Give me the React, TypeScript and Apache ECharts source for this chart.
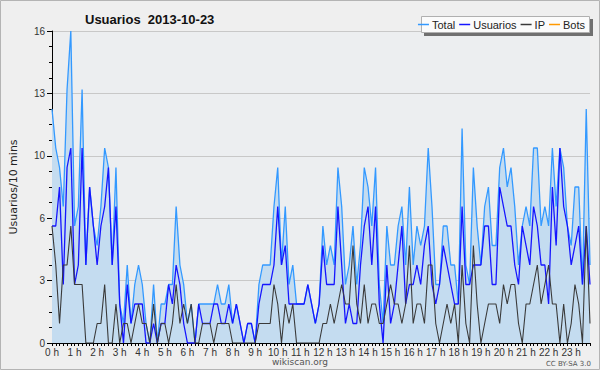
import React, { useEffect, useRef } from 'react';
import * as echarts from 'echarts';

// Hour tick labels (one every 6 ten-minute slots)
const hourLabels = [
  '0 h', '1 h', '2 h', '3 h', '4 h', '5 h', '6 h', '7 h', '8 h', '9 h', '10 h', '11 h',
  '12 h', '13 h', '14 h', '15 h', '16 h', '17 h', '18 h', '19 h', '20 h', '21 h', '22 h', '23 h',
];

const yTickLabels = ['0', '3', '6', '10', '13', '16'];

// 10-minute values, one row per hour
const total = [
  12, 10, 9, 7, 13, 16,
  6, 7, 13, 4, 8, 6,
  5, 7, 10, 9, 4, 9,
  2, 1, 4, 1, 3, 4,
  3, 1, 0, 3, 0, 2,
  2, 3, 3, 7, 4, 3,
  1, 2, 0, 2, 2, 2,
  2, 2, 3, 2, 2, 3,
  1, 2, 1, 0, 1, 1,
  0, 3, 4, 4, 4, 7,
  9, 4, 7, 3, 4, 2,
  2, 2, 3, 2, 1, 2,
  6, 4, 5, 4, 9, 7,
  3, 4, 6, 3, 5, 9,
  8, 6, 9, 3, 1, 6,
  4, 4, 6, 7, 4, 8,
  4, 6, 5, 6, 10, 7,
  3, 3, 6, 6, 4, 4,
  2, 11, 4, 3, 9, 6,
  4, 7, 8, 5, 5, 9,
  10, 8, 9, 7, 4, 6,
  7, 6, 10, 10, 6, 7,
  6, 10, 7, 10, 9, 6,
  5, 8, 8, 3, 12, 4,
];

const usuarios = [
  6, 6, 8, 3, 9, 10,
  3, 4, 10, 4, 8, 6,
  4, 6, 7, 9, 4, 7,
  2, 0, 3, 1, 2, 2,
  2, 0, 0, 1, 0, 1,
  1, 3, 2, 4, 3, 1,
  0, 0, 0, 2, 1, 1,
  1, 2, 2, 1, 1, 2,
  1, 2, 1, 0, 1, 1,
  0, 2, 3, 3, 3, 4,
  7, 4, 5, 2, 2, 2,
  2, 2, 3, 2, 1, 2,
  5, 3, 3, 3, 7, 4,
  1, 2, 1, 1, 4, 6,
  7, 4, 7, 2, 0, 4,
  1, 2, 4, 6, 2, 3,
  3, 4, 3, 5, 6, 3,
  2, 3, 5, 4, 3, 2,
  2, 7, 3, 3, 4, 4,
  4, 6, 6, 3, 3, 8,
  7, 6, 6, 4, 3, 6,
  5, 4, 7, 6, 4, 4,
  2, 8, 5, 10, 7, 6,
  4, 5, 6, 3, 6, 3,
];

const ip = [
  6, 4, 1, 4, 4, 6,
  3, 3, 3, 0, 0, 0,
  1, 1, 3, 0, 0, 2,
  0, 1, 1, 0, 1, 2,
  1, 1, 0, 2, 0, 1,
  1, 0, 1, 3, 1, 2,
  1, 2, 0, 0, 1, 1,
  1, 0, 1, 1, 1, 1,
  0, 0, 0, 0, 0, 0,
  0, 1, 1, 1, 1, 3,
  2, 0, 2, 1, 2, 0,
  0, 0, 0, 0, 0, 0,
  1, 1, 2, 1, 2, 3,
  2, 2, 5, 2, 1, 3,
  1, 2, 2, 1, 1, 2,
  3, 2, 2, 1, 2, 5,
  1, 2, 2, 1, 4, 4,
  1, 0, 1, 2, 1, 2,
  0, 4, 1, 0, 5, 2,
  0, 1, 2, 2, 2, 1,
  3, 2, 3, 3, 1, 0,
  2, 2, 3, 4, 2, 3,
  4, 2, 2, 0, 2, 0,
  1, 3, 2, 0, 6, 1,
];

const bots: number[] = [];

const slots: string[] = [];
hourLabels.forEach((h, hi) => {
  for (let m = 0; m < 6; m++) slots.push(m === 0 ? h : `${hi}:${m}0`);
});

export default function App() {
  const ref = useRef<HTMLDivElement>(null);
  useEffect(() => {
    document.body.style.margin = '0';
    const chart = echarts.init(ref.current!, null, { renderer: 'svg' });
    const font = 'DejaVu Sans';
    const narrow = "'Liberation Sans Narrow', 'Liberation Sans', sans-serif";
    chart.setOption({
      animation: false,
      backgroundColor: '#efefef',
      title: {
        text: 'Usuarios  2013-10-23',
        left: 80,
        top: 8,
        textStyle: { fontFamily: 'Liberation Sans', fontWeight: 'bold', fontSize: 13, color: '#111' },
      },
      graphic: [
        { type: 'rect', z: 0, shape: { x: 0.5, y: 0.5, width: 599, height: 369 }, style: { fill: 'none', stroke: '#b4b4b4', lineWidth: 1 } },
        { type: 'rect', z: 0, shape: { x: 424, y: 19, width: 169, height: 17 }, style: { fill: '#707070' } },
        { type: 'rect', z: 1, shape: { x: 421.5, y: 16.5, width: 168, height: 16 }, style: { fill: '#fbfbfb', stroke: '#b0b0b0', lineWidth: 1 } },
        { type: 'text', z: 1, x: 300, y: 357, style: { text: 'wikiscan.org', fontSize: 9, fontFamily: font, fill: '#555', textAlign: 'center' } },
        { type: 'text', z: 1, x: 591, y: 360, style: { text: 'CC BY-SA 3.0', fontSize: 7, fontFamily: font, fill: '#555', textAlign: 'right' } },
      ],
      legend: {
        right: 13,
        top: 18,
        z: 10,
        padding: [1, 2],
        itemGap: 4,
        itemWidth: 11,
        itemHeight: 1.5,
        icon: 'rect',
        textStyle: { fontSize: 11, fontFamily: 'Liberation Sans', color: '#222', padding: [0, 0, 0, -2] },
        data: ['Total', 'Usuarios', 'IP', 'Bots'],
      },
      grid: { left: 46, right: 10, top: 31, bottom: 27, show: true, backgroundColor: '#eceef0', borderWidth: 0 },
      xAxis: {
        type: 'category',
        data: slots,
        boundaryGap: false,
        axisLine: { lineStyle: { color: '#000', width: 1 } },
        axisTick: { interval: 0, length: 3, lineStyle: { color: '#000' } },
        axisLabel: {
          interval: (i: number) => i % 6 === 0,
          fontSize: 10,
          fontFamily: narrow,
          color: '#333',
          margin: 4,
        },
        splitLine: { show: false },
      },
      yAxis: {
        type: 'value',
        min: 0,
        max: 16,
        interval: 3.2,
        name: 'Usuarios/10 mins',
        nameLocation: 'middle',
        nameGap: 33,
        nameTextStyle: { fontSize: 11, fontFamily: font, color: '#222' },
        axisLine: { show: true, lineStyle: { color: '#000' } },
        axisTick: { show: true, length: 5, lineStyle: { color: '#000' } },
        minorTick: { show: true, splitNumber: 4, length: 3, lineStyle: { color: '#000' } },
        splitLine: { lineStyle: { color: '#c8c8c8', width: 1 } },
        axisLabel: {
          formatter: (v: number) => yTickLabels[Math.round(v / 3.2)],
          fontSize: 10,
          fontFamily: narrow,
          color: '#333',
          margin: 7,
        },
      },
      series: [
        {
          name: 'Total', type: 'line', data: total, symbol: 'none',
          lineStyle: { color: '#3399ff', width: 1.3 }, itemStyle: { color: '#3399ff' },
          areaStyle: { color: '#c4dcf0', opacity: 1 }, z: 2,
        },
        {
          name: 'Usuarios', type: 'line', data: usuarios, symbol: 'none',
          lineStyle: { color: '#1515ff', width: 1.3 }, itemStyle: { color: '#1515ff' }, z: 3,
        },
        {
          name: 'IP', type: 'line', data: ip, symbol: 'none',
          lineStyle: { color: '#3a3a3a', width: 1.1 }, itemStyle: { color: '#3a3a3a' }, z: 4,
        },
        {
          name: 'Bots', type: 'line', data: bots, symbol: 'none',
          lineStyle: { color: '#ff9900', width: 1.3 }, itemStyle: { color: '#ff9900' }, z: 5,
        },
      ],
    });
    return () => chart.dispose();
  }, []);
  return <div ref={ref} style={{ width: 600, height: 370 }} />;
}
